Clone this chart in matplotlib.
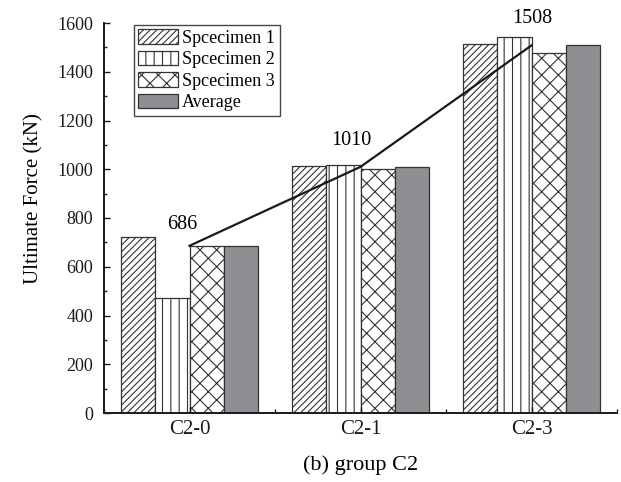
import numpy as np
import matplotlib.pyplot as plt
from matplotlib.ticker import MultipleLocator

plt.rcParams['font.family'] = ['Liberation Serif', 'DejaVu Serif']
plt.rcParams['hatch.linewidth'] = 0.8

groups = ["C2-0", "C2-1", "C2-3"]
spec1 = [723, 1012, 1513]
spec2 = [470, 1016, 1541]
spec3 = [687, 1000, 1478]
average = [686, 1010, 1508]
series_names = ["Spcecimen 1", "Spcecimen 2", "Spcecimen 3", "Average"]

fig = plt.figure(figsize=(6.21, 4.82), dpi=100)
ax = fig.add_axes([104 / 621, 69 / 482, 513 / 621, 390 / 482])

x = np.arange(len(groups))
w = 0.2
series = [spec1, spec2, spec3, average]
hatches = ["/////", "||", "xx", None]
faces = ["white", "white", "white", "#8e8f93"]
for i, (vals, name) in enumerate(zip(series, series_names)):
    ax.bar(x + (i - 1.5) * w, vals, w, label=name, color=faces[i],
           edgecolor="#333333", hatch=hatches[i], linewidth=0.9)

ax.plot(x, average, color="#1a1a1a", lw=1.6)
offsets = [(-5, 15), (-6.5, 19), (0.7, 19.5)]
for xi, v, off in zip(x, average, offsets):
    ax.annotate(str(v), (xi, v), xytext=off, textcoords="offset points",
                ha="center", va="center", fontsize=14.5)

ax.set_xlim(-0.5, 2.5)
ax.set_ylim(0, 1600)
ax.set_xticks(x)
ax.set_xticklabels(groups)
ax.xaxis.set_minor_locator(MultipleLocator(0.5))
ax.yaxis.set_major_locator(MultipleLocator(200))
ax.yaxis.set_minor_locator(MultipleLocator(100))
ax.tick_params(direction="in", which="both", colors="#1a1a1a")
ax.tick_params(which="major", length=4, width=1)
ax.tick_params(which="minor", length=2.5, width=1)
ax.tick_params(axis="y", labelsize=13, pad=8)
ax.tick_params(axis="x", labelsize=15, pad=5)
ax.tick_params(axis="x", which="minor", length=3)
for s in ["top", "right"]:
    ax.spines[s].set_visible(False)
for s in ["left", "bottom"]:
    ax.spines[s].set_linewidth(1.4)
    ax.spines[s].set_color("#1a1a1a")

ax.set_ylabel("Ultimate Force (kN)", fontsize=15)
ax.yaxis.set_label_coords(-0.118, 0.551)
ax.set_xlabel("(b) group C2", fontsize=16, labelpad=12)

leg = ax.legend(loc="upper left", bbox_to_anchor=(0.054, 1.0), fontsize=13,
                frameon=True, fancybox=False, edgecolor="#1a1a1a",
                handlelength=2.2, handleheight=0.85, handletextpad=0.25,
                borderpad=0.25, labelspacing=0.22, borderaxespad=0.1)
leg.get_frame().set_linewidth(1.0)

fig.savefig("out.png", dpi=100)
